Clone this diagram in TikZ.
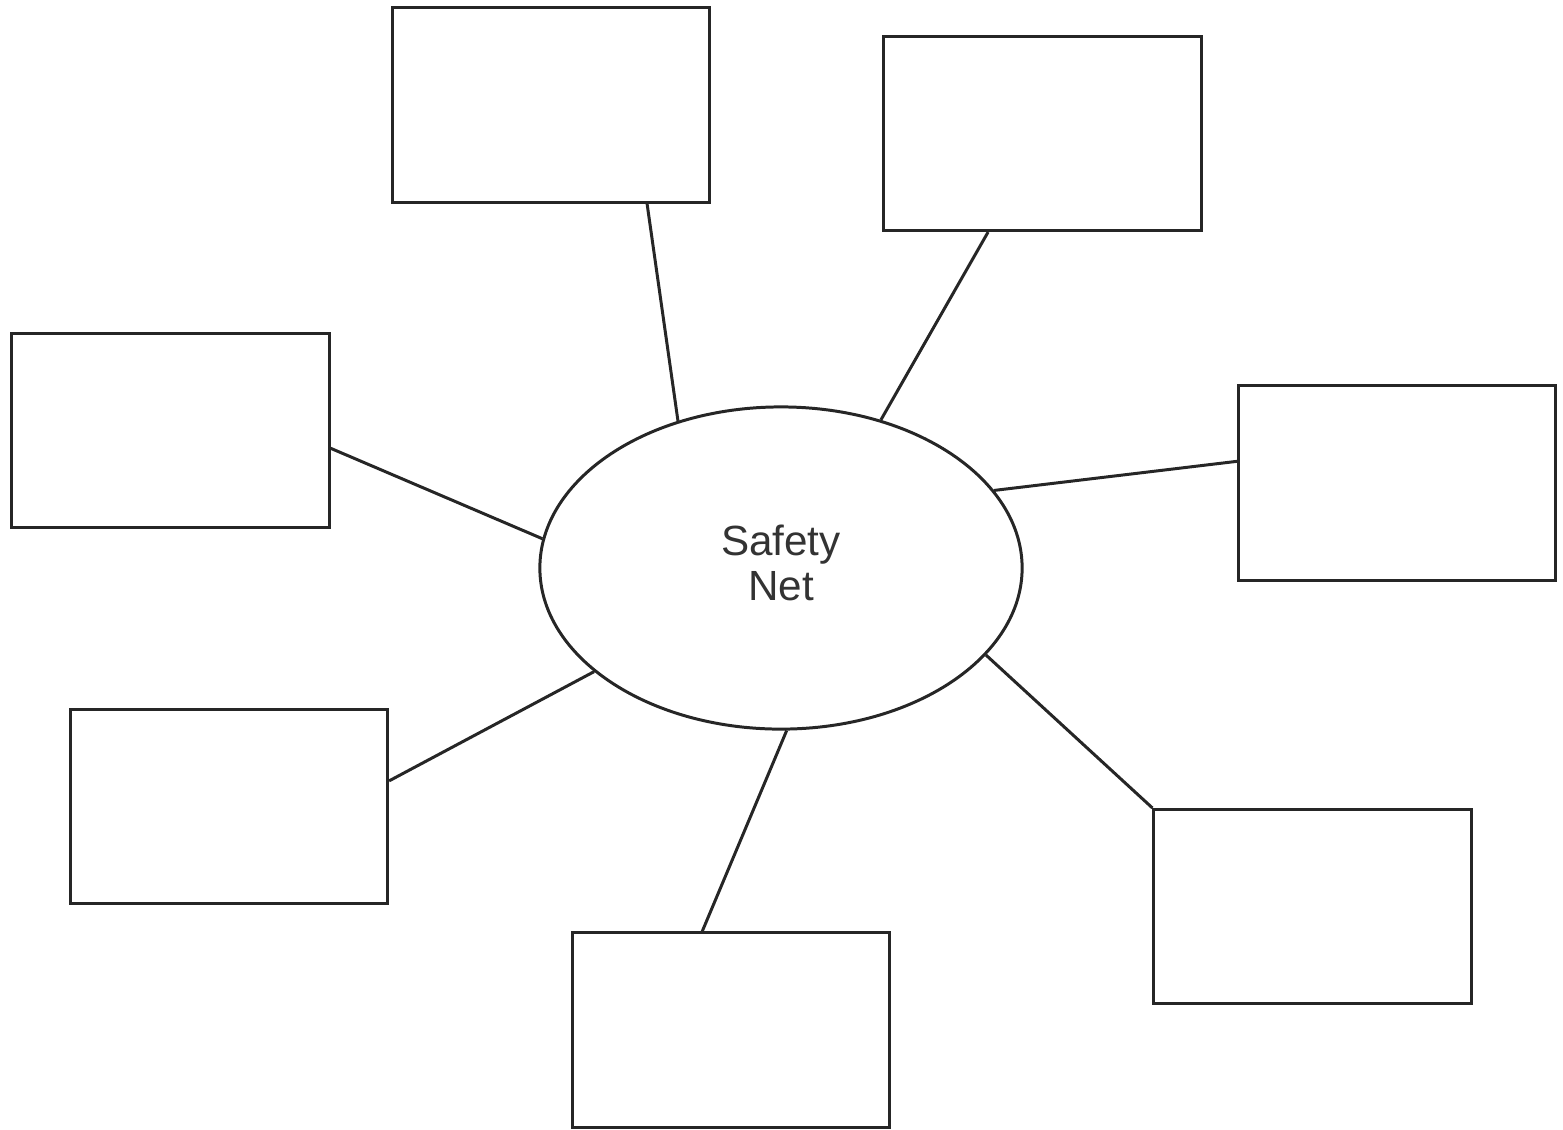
\documentclass[tikz,border=0pt]{standalone}
\usepackage{fontspec}
\setmainfont{Liberation Sans}
\usetikzlibrary{shapes.geometric,calc}
\begin{document}
\begin{tikzpicture}[x=0.01cm,y=-0.01cm,
  box/.style={draw=black!85,line width=0.85pt,rectangle,minimum width=3.17cm,minimum height=1.94cm,inner sep=0pt},
  hub/.style={draw=black!85,line width=0.85pt,ellipse,minimum width=4.82cm,minimum height=3.22cm,inner sep=0pt},
  link/.style={draw=black!85,line width=0.85pt}]
\useasboundingbox (0,0) rectangle (1563,1129);
\node[hub] (e) at (781,568) {};
\node[text=black!80,align=center,font=\fontsize{12}{12.8}\selectfont] (t) at (781,563) {Safety\\Net};
\node[box] (tm) at (551,105) {};
\node[box] (tr) at (1042.5,133.5) {};
\node[box] (l) at (170.5,430.5) {};
\node[box] (r) at (1397,483) {};
\node[box] (bl) at (229,806.5) {};
\node[box] (bm) at (731,1030) {};
\node[box] (br) at (1312.5,906.5) {};
\coordinate (ptm) at ($(tm.south west)!0.80!(tm.south east)$);
\coordinate (ptr) at ($(tr.south west)!0.33!(tr.south east)$);
\coordinate (pl) at ($(l.north east)!0.59!(l.south east)$);
\coordinate (pr) at ($(r.north west)!0.39!(r.south west)$);
\coordinate (pbl) at ($(bl.north east)!0.37!(bl.south east)$);
\coordinate (pbm) at ($(bm.north west)!0.41!(bm.north east)$);
\draw[link] (ptm) -- (e.125);
\draw[link] (ptr) -- (e.56);
\draw[link] (pl) -- (e.173);
\draw[link] (pr) -- (e.20);
\draw[link] (pbl) -- (e.209);
\draw[link] (pbm) -- (e.272);
\draw[link] (br.north west) -- (e.337);
\end{tikzpicture}
\end{document}
